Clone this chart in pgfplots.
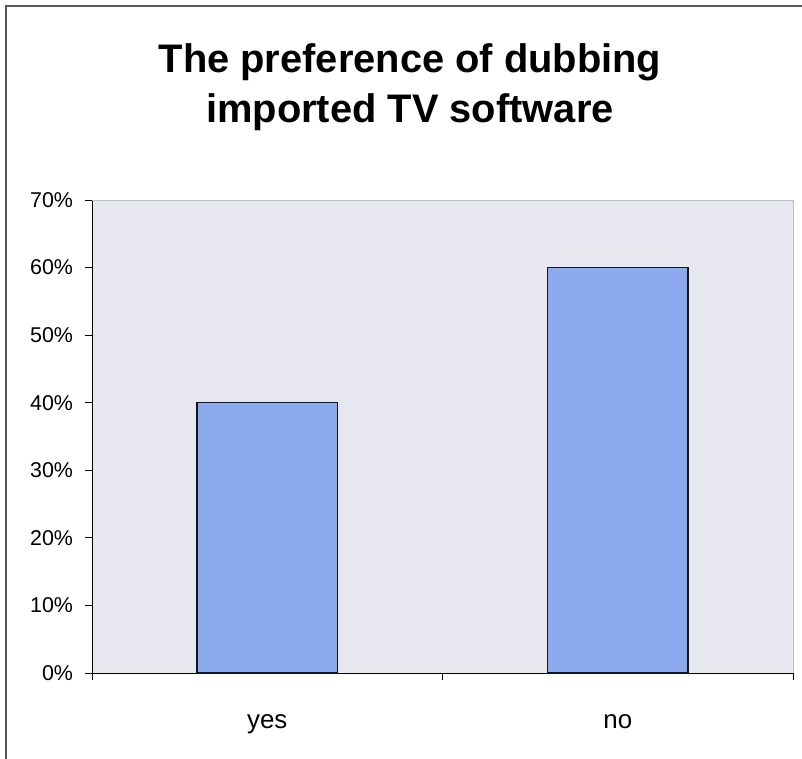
\documentclass[border=0pt]{standalone}
\usepackage{pgfplots}
\pgfplotsset{compat=1.18}
\usepackage{fontspec}
\setmainfont{Liberation Sans}
\definecolor{plotbg}{HTML}{E7E7F0}
\definecolor{barfill}{HTML}{8CAAEE}
\definecolor{baredge}{HTML}{14141F}
\begin{document}
\begin{tikzpicture}
\path[use as bounding box] (-92bp,-86bp) rectangle (710bp,673bp);
\draw[gray!70!black, line width=1.2bp] (-86bp,-86bp) -- (-86bp,667bp) -- (710bp,667bp);
\begin{axis}[
  at={(0,0)}, anchor=south west,
  scale only axis,
  width=701bp, height=473bp,
  xmin=-0.5, xmax=1.5,
  ymin=0, ymax=70,
  axis x line*=bottom, axis y line*=left,
  axis line style={black, line width=0.8bp},
  axis background/.style={fill=plotbg},
  xtick={-0.5,0.5,1.5}, xticklabels={},
  extra x ticks={0,1}, extra x tick labels={yes,no},
  extra x tick style={major tick length=0pt},
  ytick={0,10,...,70},
  yticklabels={0\%,10\%,20\%,30\%,40\%,50\%,60\%,70\%},
  tick align=outside,
  tick style={black, line width=0.8bp},
  major tick length=6.5bp,
  yticklabel style={font=\fontsize{21.5}{25}\selectfont, xshift=-9bp},
  xticklabel style={font=\fontsize{26}{30}\selectfont, anchor=base, yshift=-55bp},
  clip=false,
]
\addplot[ybar, bar width=0.4, fill=barfill, draw=baredge, line width=1.5bp] coordinates {(0,40) (1,60)};
\draw[gray!50, line width=1bp] (rel axis cs:0,1) -- (rel axis cs:1,1) -- (rel axis cs:1,0);
\end{axis}
\node[anchor=base, font=\fontsize{40}{50}\selectfont\bfseries] at (318bp,600bp) {The preference of dubbing};
\node[anchor=base, font=\fontsize{40}{50}\selectfont\bfseries] at (318bp,550bp) {imported TV software};
\end{tikzpicture}
\end{document}
